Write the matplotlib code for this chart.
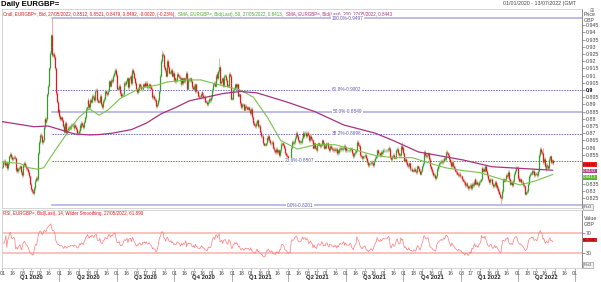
import numpy as np
import pandas as pd
import matplotlib
matplotlib.use("Agg")
import matplotlib.pyplot as plt
import matplotlib.transforms as mtrans

plt.rcParams['font.family'] = ['Liberation Sans', 'DejaVu Sans']

# daily closes (bid), one list per month
c_2020_01 = [0.8467, 0.8500, 0.8507, 0.8480, 0.8495, 0.8455, 0.8490, 0.8500, 0.8540, 0.8555, 0.8535, 0.8520,
             0.8530, 0.8535, 0.8525, 0.8445, 0.8455, 0.8435, 0.8450, 0.8460, 0.8470, 0.8430, 0.8410]
c_2020_02 = [0.8460, 0.8480, 0.8495, 0.8475, 0.8455, 0.8450, 0.8430, 0.8400, 0.8350, 0.8330, 0.8310, 0.8300,
             0.8285, 0.8320, 0.8370, 0.8390, 0.8380, 0.8450, 0.8560, 0.8640]
c_2020_03 = [0.8690, 0.8680, 0.8640, 0.8650, 0.8740, 0.8800, 0.8780, 0.8800, 0.8970, 0.9030, 0.9150, 0.9260,
             0.9380, 0.9300, 0.9240, 0.9250, 0.9230, 0.9150, 0.8980, 0.8920, 0.8850, 0.8860]
c_2020_04 = [0.8820, 0.8800, 0.8810, 0.8790, 0.8750, 0.8710, 0.8770, 0.8750, 0.8700, 0.8720, 0.8735, 0.8745,
             0.8735, 0.8760, 0.8760, 0.8755, 0.8735, 0.8760, 0.8745, 0.8730, 0.8700, 0.8700]
c_2020_05 = [0.8715, 0.8760, 0.8740, 0.8770, 0.8760, 0.8740, 0.8780, 0.8810, 0.8870, 0.8880, 0.8930, 0.8900,
             0.8880, 0.8930, 0.8920, 0.8960, 0.8950, 0.8930, 0.8970, 0.8995, 0.9000]
c_2020_06 = [0.8930, 0.8920, 0.8920, 0.8960, 0.8900, 0.8890, 0.8880, 0.8925, 0.8940, 0.8990, 0.8980, 0.8970,
             0.8995, 0.9060, 0.9060, 0.9030, 0.9070, 0.9060, 0.9100, 0.9120, 0.9140, 0.9105]
c_2020_07 = [0.9040, 0.9010, 0.9010, 0.9030, 0.8980, 0.8960, 0.8970, 0.8970, 0.9020, 0.9050, 0.9040, 0.9060,
             0.9080, 0.9020, 0.9080, 0.9090, 0.9100, 0.9050, 0.9140, 0.9120, 0.9080, 0.9050, 0.9005]
c_2020_08 = [0.8985, 0.9010, 0.9000, 0.9040, 0.9030, 0.9005, 0.9005, 0.9040, 0.9030, 0.9050, 0.9030, 0.9050,
             0.9020, 0.9020, 0.9040, 0.9020, 0.9010, 0.8990, 0.8950, 0.8960, 0.8940]
c_2020_09 = [0.8930, 0.8890, 0.8900, 0.8930, 0.8990, 0.9080, 0.9100, 0.9200, 0.9250, 0.9240, 0.9160, 0.9140,
             0.9100, 0.9170, 0.9200, 0.9160, 0.9120, 0.9120, 0.9140, 0.9100, 0.9120, 0.9070]
c_2020_10 = [0.9080, 0.9060, 0.9070, 0.9110, 0.9100, 0.9090, 0.9080, 0.9040, 0.9080, 0.9050, 0.9080, 0.9060,
             0.9080, 0.9120, 0.9010, 0.9070, 0.9070, 0.9070, 0.9080, 0.9060, 0.9020, 0.9010]
c_2020_11 = [0.9030, 0.8990, 0.9040, 0.8990, 0.8990, 0.8960, 0.8950, 0.8950, 0.8970, 0.8985, 0.8965, 0.8950,
             0.8950, 0.8920, 0.8920, 0.8900, 0.8920, 0.8940, 0.8930, 0.8930, 0.8950]
c_2020_12 = [0.9000, 0.9040, 0.9050, 0.9030, 0.9100, 0.9110, 0.9080, 0.9130, 0.9160, 0.9050, 0.9060, 0.9080,
             0.9030, 0.9080, 0.9100, 0.9100, 0.9070, 0.9030, 0.9030, 0.9110, 0.9100, 0.9050, 0.8940]
c_2021_01 = [0.8940, 0.9000, 0.9010, 0.9040, 0.9020, 0.9040, 0.9000, 0.8960, 0.8970, 0.8910, 0.8880, 0.8900,
             0.8900, 0.8860, 0.8870, 0.8890, 0.8880, 0.8870, 0.8880, 0.8860, 0.8840]
c_2021_02 = [0.8870, 0.8810, 0.8810, 0.8770, 0.8760, 0.8750, 0.8770, 0.8790, 0.8750, 0.8750, 0.8720, 0.8710,
             0.8680, 0.8680, 0.8630, 0.8620, 0.8620, 0.8630, 0.8670, 0.8660]
c_2021_03 = [0.8680, 0.8650, 0.8630, 0.8630, 0.8640, 0.8600, 0.8590, 0.8580, 0.8570, 0.8590, 0.8570, 0.8580,
             0.8550, 0.8580, 0.8580, 0.8625, 0.8630, 0.8620, 0.8600, 0.8560, 0.8550, 0.8540, 0.8510]
c_2021_04 = [0.8500, 0.8510, 0.8500, 0.8600, 0.8640, 0.8630, 0.8640, 0.8670, 0.8690, 0.8700, 0.8680, 0.8650,
             0.8640, 0.8640, 0.8640, 0.8670, 0.8700, 0.8680, 0.8700, 0.8700, 0.8680, 0.8700]
c_2021_05 = [0.8690, 0.8650, 0.8660, 0.8680, 0.8660, 0.8650, 0.8600, 0.8630, 0.8600, 0.8590, 0.8580, 0.8620,
             0.8630, 0.8620, 0.8610, 0.8620, 0.8650, 0.8630, 0.8600, 0.8610, 0.8600]
c_2021_06 = [0.8630, 0.8630, 0.8600, 0.8580, 0.8610, 0.8610, 0.8600, 0.8590, 0.8580, 0.8590, 0.8580, 0.8590,
             0.8560, 0.8580, 0.8570, 0.8590, 0.8600, 0.8590, 0.8590, 0.8600, 0.8610, 0.8580]
c_2021_07 = [0.8600, 0.8580, 0.8580, 0.8580, 0.8580, 0.8590, 0.8590, 0.8560, 0.8550, 0.8540, 0.8560, 0.8570,
             0.8580, 0.8640, 0.8620, 0.8610, 0.8580, 0.8550, 0.8540, 0.8525, 0.8540, 0.8540]
c_2021_08 = [0.8550, 0.8525, 0.8500, 0.8500, 0.8480, 0.8490, 0.8490, 0.8500, 0.8490, 0.8480, 0.8500, 0.8510,
             0.8530, 0.8540, 0.8580, 0.8560, 0.8560, 0.8550, 0.8570, 0.8560, 0.8570, 0.8585]
c_2021_09 = [0.8580, 0.8580, 0.8580, 0.8580, 0.8590, 0.8600, 0.8590, 0.8535, 0.8520, 0.8540, 0.8550, 0.8530,
             0.8530, 0.8550, 0.8580, 0.8590, 0.8560, 0.8550, 0.8550, 0.8610, 0.8590, 0.8600]
c_2021_10 = [0.8560, 0.8510, 0.8520, 0.8500, 0.8480, 0.8470, 0.8490, 0.8460, 0.8450, 0.8450, 0.8440, 0.8440,
             0.8450, 0.8440, 0.8430, 0.8450, 0.8470, 0.8460, 0.8440, 0.8420, 0.8440]
c_2021_11 = [0.8470, 0.8490, 0.8560, 0.8570, 0.8550, 0.8540, 0.8550, 0.8560, 0.8520, 0.8470, 0.8450, 0.8440,
             0.8430, 0.8410, 0.8410, 0.8390, 0.8400, 0.8450, 0.8470, 0.8480, 0.8490, 0.8500]
c_2021_12 = [0.8510, 0.8500, 0.8510, 0.8530, 0.8520, 0.8560, 0.8570, 0.8560, 0.8550, 0.8520, 0.8500, 0.8470,
             0.8500, 0.8490, 0.8470, 0.8460, 0.8440, 0.8430, 0.8420, 0.8410, 0.8420, 0.8410, 0.8400]
c_2022_01 = [0.8400, 0.8380, 0.8370, 0.8360, 0.8340, 0.8350, 0.8350, 0.8330, 0.8320, 0.8330, 0.8340, 0.8320,
             0.8350, 0.8340, 0.8360, 0.8380, 0.8350, 0.8360, 0.8350, 0.8340, 0.8360]
c_2022_02 = [0.8370, 0.8380, 0.8460, 0.8440, 0.8450, 0.8440, 0.8470, 0.8440, 0.8410, 0.8380, 0.8360, 0.8360,
             0.8380, 0.8380, 0.8350, 0.8330, 0.8340, 0.8360, 0.8330, 0.8340]
c_2022_03 = [0.8320, 0.8300, 0.8280, 0.8260, 0.8250, 0.8300, 0.8380, 0.8380, 0.8370, 0.8380, 0.8410, 0.8400,
             0.8430, 0.8380, 0.8350, 0.8350, 0.8360, 0.8340, 0.8370, 0.8420, 0.8440, 0.8460, 0.8460]
c_2022_04 = [0.8420, 0.8390, 0.8370, 0.8380, 0.8360, 0.8360, 0.8340, 0.8330, 0.8300, 0.8280, 0.8290, 0.8300,
             0.8350, 0.8400, 0.8420, 0.8420, 0.8440, 0.8430, 0.8440, 0.8410, 0.8420]
c_2022_05 = [0.8420, 0.8410, 0.8440, 0.8500, 0.8550, 0.8590, 0.8570, 0.8560, 0.8500, 0.8520, 0.8470, 0.8450,
             0.8480, 0.8470, 0.8460, 0.8520, 0.8540, 0.8500, 0.8512, 0.8492]
first_open = 0.8460

# notable highs / lows visible as long wicks
ext_dates = ['2020-02-19', '2020-03-19', '2020-09-11', '2020-12-11', '2021-09-29', '2022-03-07',
             '2022-05-12', '2022-05-27']
ext_highs = [None, 0.9497, 0.9275, 0.9225, 0.8640, None, 0.8600, 0.8521]
ext_lows = [0.8280, None, None, None, None, 0.8201, None, 0.8479]

# moving averages read at a few dates
sma50_dates = ['2020-01-01', '2020-01-29', '2020-02-12', '2020-02-26', '2020-03-06', '2020-03-25', '2020-04-16',
               '2020-05-01', '2020-05-19', '2020-06-03', '2020-06-17', '2020-07-07', '2020-08-07', '2020-09-04',
               '2020-09-21', '2020-10-22', '2020-11-12', '2020-12-14', '2021-01-14', '2021-02-04', '2021-02-26',
               '2021-03-19', '2021-04-15', '2021-05-14', '2021-06-15', '2021-07-15', '2021-08-18', '2021-09-15',
               '2021-10-15', '2021-11-15', '2021-12-08', '2022-01-05', '2022-02-01', '2022-03-03', '2022-04-06',
               '2022-05-02', '2022-05-27']
sma50_vals = [0.8500, 0.8490, 0.8460, 0.8450, 0.8460, 0.8580, 0.8720, 0.8810, 0.8870, 0.8825, 0.8860, 0.8940,
              0.9014, 0.9035, 0.9056, 0.9070, 0.9070, 0.9035, 0.9000, 0.8950, 0.8810, 0.8650, 0.8590, 0.8620,
              0.8620, 0.8585, 0.8545, 0.8530, 0.8530, 0.8490, 0.8460, 0.8440, 0.8427, 0.8385, 0.8340, 0.8370,
              0.8413]
sma200_dates = ['2020-01-01', '2020-02-20', '2020-03-13', '2020-04-24', '2020-05-19', '2020-06-02', '2020-06-24',
                '2020-07-24', '2020-08-18', '2020-09-10', '2020-10-05', '2020-10-26', '2020-12-17', '2021-01-14',
                '2021-02-10', '2021-03-29', '2021-05-13', '2021-06-29', '2021-08-18', '2021-09-15', '2021-10-26',
                '2022-01-05', '2022-02-21', '2022-05-27']
sma200_vals = [0.8780, 0.8745, 0.8750, 0.8695, 0.8688, 0.8690, 0.8700, 0.8725, 0.8770, 0.8835, 0.8880, 0.8925,
               0.8975, 0.8990, 0.8980, 0.8919, 0.8850, 0.8757, 0.8700, 0.8650, 0.8570, 0.8514, 0.8467, 0.8443]

fib_pct = ['100.0%', '61.8%', '50.0%', '38.2%', '23.6%', '0.0%']
fib_vals = [0.9497, 0.9002, 0.8849, 0.8696, 0.8507, 0.8201]
fib_solid = [True, False, True, False, False, True]
fib_label_x = ['2021-07-05', '2021-07-02', '2021-07-05', '2021-07-02', '2021-04-20', '2021-04-20']

header_parts = ['Cndl, EURGBP=, Bid, 27/05/2022, 0.8512, 0.8521, 0.8479, 0.8492, -0.0020, (-0.23%),',
                'SMA, EURGBP=, Bid(Last), 50, 27/05/2022, 0.8413,',
                'SMA, EURGBP=, Bid(Last), 200, 27/05/2022, 0.8443']
rsi_header = 'RSI, EURGBP=, Bid(Last), 14, Wilder Smoothing, 27/05/2022, 61.890'
last_close, last_sma50, last_sma200, last_rsi = 0.8492, 0.8413, 0.8443, 61.890

RED, GREEN, MAG = '#e3191c', '#3a9a2a', '#a8327f'

# ---------------------------------------------------------------------------
closes = np.array(c_2020_01 + c_2020_02 + c_2020_03 + c_2020_04 + c_2020_05 + c_2020_06 + c_2020_07 +
                  c_2020_08 + c_2020_09 + c_2020_10 + c_2020_11 + c_2020_12 + c_2021_01 + c_2021_02 +
                  c_2021_03 + c_2021_04 + c_2021_05 + c_2021_06 + c_2021_07 + c_2021_08 + c_2021_09 +
                  c_2021_10 + c_2021_11 + c_2021_12 + c_2022_01 + c_2022_02 + c_2022_03 + c_2022_04 + c_2022_05)
days = pd.bdate_range('2020-01-01', '2022-07-13')
n = len(closes)
xs = np.arange(n)
opens = np.r_[first_open, closes[:-1]]
WICK = 0.0012
highs = np.maximum(opens, closes) + WICK
lows = np.minimum(opens, closes) - WICK
for d, h, l in zip(ext_dates, ext_highs, ext_lows):
    i = days.get_loc(pd.Timestamp(d))
    if h is not None:
        highs[i] = h
    if l is not None:
        lows[i] = l


def day_idx(dates):
    return days.searchsorted(pd.to_datetime(dates))


# RSI 14, Wilder smoothing
delta = pd.Series(closes).diff().fillna(0)
up = delta.clip(lower=0).ewm(alpha=1 / 14).mean()
dn = (-delta.clip(upper=0)).ewm(alpha=1 / 14).mean()
rsi = 100 - 100 / (1 + up / dn.replace(0, np.nan))
rsi = rsi.fillna(50).values

W, H = 601, 282
fig = plt.figure(figsize=(W / 100, H / 100), dpi=100)


def box(l, t, r, b):
    return [l / W, 1 - b / H, (r - l) / W, (b - t) / H]


def fy(y):
    return 1 - y / H


ax = fig.add_axes(box(2, 9, 582, 208))
axr = fig.add_axes(box(2, 210, 582, 268), sharex=ax)
ax.set_xlim(-0.5, len(days) - 0.5)
ax.set_ylim(0.81806, 0.95625)

# candles
up_mask = closes >= opens
body_lo = np.minimum(opens, closes)
body_hi = np.maximum(np.maximum(opens, closes), body_lo + 0.0004)
ax.vlines(xs, lows, highs, colors=np.where(up_mask, '#a6dba0', '#f7a8a8'), lw=0.7, zorder=2)
ax.vlines(xs, body_lo, body_hi, colors=np.where(up_mask, GREEN, RED), lw=0.9, zorder=3)

# moving averages
ax.plot(day_idx(sma50_dates), sma50_vals, color='#79c24a', lw=0.8, zorder=4)
ax.plot(day_idx(sma200_dates), sma200_vals, color=MAG, lw=0.9, zorder=4)

# fibonacci retracement
fib_x0 = days.get_loc(pd.Timestamp('2020-03-19'))
for pct, v, solid, lx in zip(fib_pct, fib_vals, fib_solid, fib_label_x):
    if solid:
        ax.plot([fib_x0, len(days)], [v, v], color='#a9a9de', lw=1.1, zorder=1)
    else:
        ax.plot([fib_x0, len(days)], [v, v], color='#6d6dcc', lw=0.7, ls=(0, (1.5, 1.2)), zorder=1)
    ax.text(day_idx([lx])[0], v, f'{pct}-{v:.4f}', fontsize=3.4, color='#5b5bb0', ha='center', va='center',
            zorder=5, bbox=dict(facecolor='white', edgecolor='none', pad=0.5))

# right price axis; the tags take the place of the labels near the last price
ax.yaxis.tick_right()
ticks = np.arange(0.825, 0.9451, 0.005)
ax.set_yticks(ticks)
ax.set_yticklabels(['' if 0.8375 < t < 0.8525 else f'{t:.3f}'.rstrip('0') for t in ticks])
ax.tick_params(axis='y', labelsize=3.8, length=2, width=0.4, pad=1, colors='#555555', labelcolor='#444444')
for lab in ax.get_yticklabels():
    if lab.get_text() == '0.9':
        lab.set_fontweight('bold')
        lab.set_color('black')
ax.tick_params(axis='x', bottom=False, labelbottom=False)
for s in ['top', 'left', 'bottom']:
    ax.spines[s].set_color('#cfcfcf')
    ax.spines[s].set_linewidth(0.6)
ax.spines['right'].set_color('#777777')
ax.spines['right'].set_linewidth(0.6)

# header lines
ax.text(0.002, 0.985, header_parts[0], transform=ax.transAxes, fontsize=3.25, color=RED, va='top')
ax.text(176 / 580, 0.985, header_parts[1], transform=ax.transAxes, fontsize=3.25, color='#4aa832', va='top')
ax.text(284 / 580, 0.985, header_parts[2], transform=ax.transAxes, fontsize=3.25, color=MAG, va='top')
fig.text(1 / W, fy(4), 'Daily EURGBP=', fontsize=5.6, fontweight='bold', va='center')
fig.text(503 / W, fy(4), '01/01/2020 - 13/07/2022 (GMT', fontsize=3.8, color='#444444', va='center')
fig.text(584 / W, fy(14), 'Price', fontsize=3.8, color='#444444', va='center')
fig.text(584 / W, fy(20), 'GBP', fontsize=3.8, color='#444444', va='center')
fig.text(590 / W, fy(10), '\u229e', fontsize=3.6, color='#777777', va='center')

# last value tags, stacked under each other like the reference
tag_y = [164.5, 171, 177.2]
for val, ty, col, tc in [(last_close, tag_y[0], '#ff1a1a', '#222222'), (last_sma200, tag_y[1], '#b0408a', 'white'),
                         (last_sma50, tag_y[2], '#5cb82e', 'white')]:
    fig.text(583 / W, fy(ty), f'{val:.4f}', fontsize=3.2, color=tc, va='center', ha='left',
             bbox=dict(boxstyle='square,pad=0.08', facecolor=col, edgecolor='none'))

# small scale boxes at the foot of each value axis
for yb in (207, 265):
    fig.text(584 / W, fy(yb), 'Pct3', fontsize=3.0, color='#555555', va='center', ha='left',
             bbox=dict(boxstyle='square,pad=0.15', facecolor='#f2f2f2', edgecolor='#888888', lw=0.4))

# RSI panel
axr.set_ylim(-1.6, 118.4)
axr.axhline(70, color='#ffb4b4', lw=1.2)
axr.axhline(30, color='#ffb4b4', lw=1.2)
axr.plot(xs, rsi, color='#ff7a7a', lw=0.5)
axr.yaxis.tick_right()
axr.set_yticks([30, 70])
axr.set_yticklabels(['30', '70'])
axr.tick_params(axis='y', labelsize=3.8, length=2, width=0.4, pad=1, colors='#555555', labelcolor='#444444')
axr.text(0.002, 0.98, rsi_header, transform=axr.transAxes, fontsize=3.25, color=RED, va='top')
fig.text(583 / W, fy(240), f'{last_rsi:.3f}', fontsize=3.2, color='#222222', va='center', ha='left',
         bbox=dict(boxstyle='square,pad=0.08', facecolor='#ff1a1a', edgecolor='none'))
fig.text(584 / W, fy(218), 'Value', fontsize=3.8, color='#444444', va='center')
fig.text(584 / W, fy(224), 'GBP', fontsize=3.8, color='#444444', va='center')
for s in ['top', 'left', 'bottom']:
    axr.spines[s].set_color('#cfcfcf')
    axr.spines[s].set_linewidth(0.6)
axr.spines['right'].set_color('#777777')
axr.spines['right'].set_linewidth(0.6)

# date axis: ticks on 1st and 16th, quarter names underneath
tick_pos, tick_lab = [], []
for m in pd.date_range('2020-01-01', '2022-07-01', freq='MS'):
    for d in (1, 16):
        i = days.searchsorted(m + pd.Timedelta(days=d - 1))
        if i < len(days):
            tick_pos.append(i)
            tick_lab.append(f'{days[i].day:02d}')
axr.set_xticks(tick_pos)
axr.set_xticklabels(tick_lab)
axr.tick_params(axis='x', labelsize=3.8, length=1.5, width=0.4, pad=1, colors='#777777', labelcolor='#444444')

trans = mtrans.blended_transform_factory(axr.transData, fig.transFigure)
q_starts = pd.date_range('2020-01-01', '2022-07-01', freq='QS')
for k, q in enumerate(q_starts):
    i0 = days.searchsorted(q)
    if k > 0:
        axr.plot([i0, i0], [fy(273), fy(281)], transform=trans, color='#888888', lw=0.5, clip_on=False)
    if k + 1 < len(q_starts):
        i1 = days.searchsorted(q_starts[k + 1])
        axr.text((i0 + i1) / 2, fy(277.5), f'Q{q.quarter} {q.year}', transform=trans, fontsize=4.2,
                 fontweight='bold', ha='center', va='center', color='#222222')

fig.savefig('out.png', dpi=100)
